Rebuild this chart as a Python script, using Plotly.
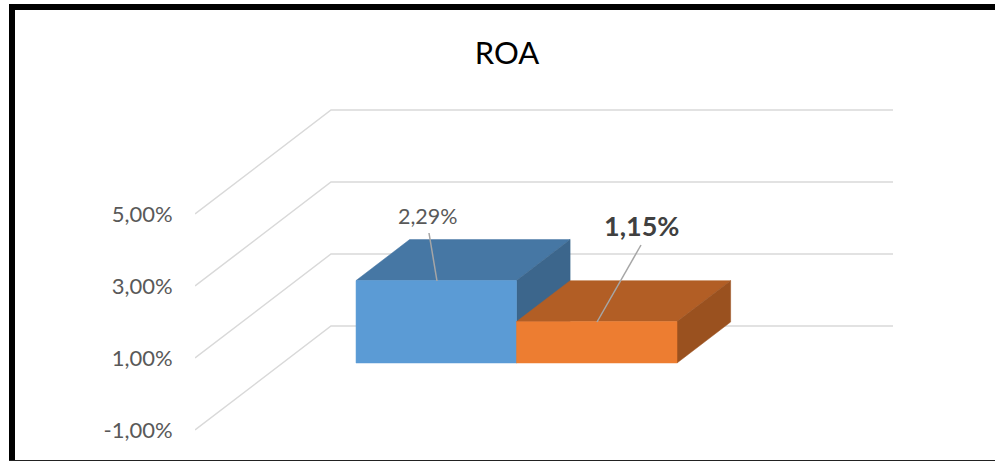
import plotly.graph_objects as go

# ---- data ----
title_text = "ROA"
series_names = ["Serie 1", "Serie 2"]
series_values = [2.29, 1.15]
value_labels = ["2,29%", "1,15%"]
tick_values = [-1, 1, 3, 5]
tick_labels = ["-1,00%", "1,00%", "3,00%", "5,00%"]

# ---- layout constants (pixels of the 995x461 page) ----
W, H = 995, 461
LEFT = 195
PLANE_W = 562
PX_PER_UNIT = 36
ZERO_PX = 394
DEPTH_DX = 136 / PLANE_W          # x shift of the back wall, plane units
DEPTH_DY = 104 / PX_PER_UNIT      # y shift of the back wall, value units
BAR_D0, BAR_D1 = 0.298, 0.692     # depth span of bars
BAR_X0 = 120.5 / PLANE_W
BAR_W = 160.5 / PLANE_W

FRONT = ["#5B9BD5", "#ED7D31"]
TOP = ["#4677A4", "#B25E25"]
SIDE = ["#3C668C", "#9A511F"]
GRID = "#D9D9D9"
TXT = "#595959"


def proj(x, v, d):
    return x + d * DEPTH_DX, v + d * DEPTH_DY


def poly(points, color):
    xs, ys = zip(*[proj(*p) for p in points])
    return go.Scatter(x=list(xs) + [xs[0]], y=list(ys) + [ys[0]], mode="lines",
                      fill="toself", fillcolor=color, line=dict(color=color, width=0.5),
                      hoverinfo="skip", showlegend=False)


fig = go.Figure()

for t in tick_values:
    xs, ys = zip(proj(0, t, 0), proj(0, t, 1), proj(1, t, 1))
    fig.add_trace(go.Scatter(x=xs, y=ys, mode="lines", line=dict(color=GRID, width=1.5),
                             hoverinfo="skip", showlegend=False))

for i, v in enumerate(series_values):
    x0 = BAR_X0 + i * BAR_W
    x1 = x0 + BAR_W
    fig.add_trace(poly([(x0, v, BAR_D0), (x0, v, BAR_D1), (x1, v, BAR_D1), (x1, v, BAR_D0)], TOP[i]))
    fig.add_trace(poly([(x1, 0, BAR_D0), (x1, 0, BAR_D1), (x1, v, BAR_D1), (x1, v, BAR_D0)], SIDE[i]))
    fig.add_trace(poly([(x0, 0, BAR_D0), (x1, 0, BAR_D0), (x1, v, BAR_D0), (x0, v, BAR_D0)], FRONT[i]))


def px_x(px):
    return (px - LEFT) / PLANE_W


def px_y(py):
    return (ZERO_PX - py) / PX_PER_UNIT


# leader lines and value labels
leaders = [((429, 233), (437, 281)), ((641, 245), (597, 322))]
label_pos = [(428, 216), (641, 225)]
label_font = [dict(size=21.5, color=TXT, family="Lato"),
              dict(size=27, color="#404040", family="Lato")]
for i, ((a, b), (c, d)) in enumerate(leaders):
    fig.add_trace(go.Scatter(x=[px_x(a), px_x(c)], y=[px_y(b), px_y(d)], mode="lines",
                             line=dict(color="#A6A6A6", width=1.5),
                             hoverinfo="skip", showlegend=False))
    lx, ly = label_pos[i]
    text = value_labels[i] if i == 0 else f"<b>{value_labels[i]}</b>"
    fig.add_annotation(x=px_x(lx), y=px_y(ly), text=text, showarrow=False, font=label_font[i])


def paper_x(px):
    return (px - LEFT) / (W - LEFT)


def paper_y(py):
    return 1 - py / H


shapes = [
    dict(type="rect", xref="paper", yref="paper", layer="above", line_width=0, fillcolor="#000000",
         x0=paper_x(9), x1=paper_x(15), y0=paper_y(461), y1=paper_y(4)),
    dict(type="rect", xref="paper", yref="paper", layer="above", line_width=0, fillcolor="#000000",
         x0=paper_x(9), x1=paper_x(995), y0=paper_y(10), y1=paper_y(4)),
    dict(type="rect", xref="paper", yref="paper", layer="above", line_width=0, fillcolor="#222222",
         x0=paper_x(9), x1=paper_x(995), y0=paper_y(461), y1=paper_y(460)),
]

fig.update_layout(
    width=W, height=H,
    margin=dict(l=LEFT, r=0, t=0, b=0),
    paper_bgcolor="white", plot_bgcolor="white",
    showlegend=False,
    title=dict(text=title_text, x=507 / W, xanchor="center", y=1 - 53 / H, yanchor="middle",
               font=dict(family="Lato", size=31, color="#000000")),
    xaxis=dict(range=[0, (W - LEFT) / PLANE_W], visible=False, fixedrange=True),
    yaxis=dict(range=[(ZERO_PX - H) / PX_PER_UNIT, ZERO_PX / PX_PER_UNIT],
               tickvals=tick_values, ticktext=tick_labels, showgrid=False, zeroline=False,
               showline=False, ticks="outside", ticklen=17, tickcolor="rgba(0,0,0,0)",
               tickfont=dict(family="Lato", size=22, color=TXT), fixedrange=True),
    shapes=shapes,
)

fig.write_html("out.html", config=dict(displayModeBar=False),
               post_script="document.body.style.margin='0';document.documentElement.style.overflow='hidden';")
